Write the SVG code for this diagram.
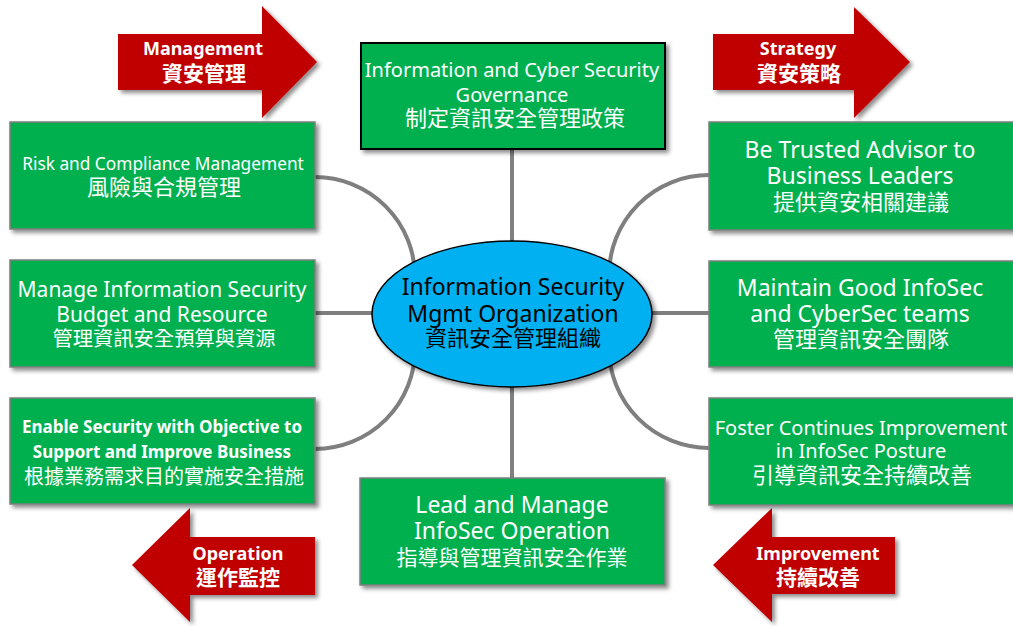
<svg xmlns="http://www.w3.org/2000/svg" width="1013" height="626" viewBox="0 0 1013 626">
<defs>
<filter id="sh" x="-10%" y="-10%" width="125%" height="130%">
<feDropShadow dx="3" dy="3" stdDeviation="2" flood-color="#000" flood-opacity="0.45"/>
</filter>
<style>
.box{fill:#00b050;stroke:#7f7f7f;stroke-width:1.5;filter:url(#sh)}
.boxk{fill:#00b050;stroke:#000;stroke-width:2;filter:url(#sh)}
.arr{fill:#c00000;filter:url(#sh)}
.con{fill:none;stroke:#7f7f7f;stroke-width:4}
text{font-family:"Noto Sans","Noto Sans CJK TC",sans-serif;text-anchor:middle;fill:#fff}
.cjk{font-family:"Noto Sans CJK TC","Noto Sans",sans-serif}
.b{font-weight:bold}
.dark{fill:#000}
</style>
</defs>
<rect width="1013" height="626" fill="#fff"/>

<g id="connectors">
<line class="con" x1="512" y1="149" x2="512" y2="245"/>
<line class="con" x1="512" y1="383" x2="512" y2="478"/>
<line class="con" x1="315" y1="313" x2="378" y2="313"/>
<line class="con" x1="647" y1="313" x2="709" y2="313"/>
<path class="con" d="M315,177 A100,100 0 0 1 415,277"/>
<path class="con" d="M315,449 A100,100 0 0 0 415,349"/>
<path class="con" d="M709,175 A100,100 0 0 0 609,275"/>
<path class="con" d="M709,448 A100,100 0 0 1 609,348"/>
</g>

<g id="arrow-management">
<polygon class="arr" points="118,34 262,34 262,6 317,62 262,118 262,90 118,90"/>
<text x="203" y="55" font-size="18" class="b">Management</text>
<text x="204" y="81" font-size="21" class="cjk b">資安管理</text>
</g>
<g id="arrow-strategy">
<polygon class="arr" points="713,34 854,34 854,7 910,62 854,118 854,90 713,90"/>
<text x="798" y="55" font-size="18" class="b">Strategy</text>
<text x="799" y="81" font-size="21" class="cjk b">資安策略</text>
</g>
<g id="arrow-operation">
<polygon class="arr" points="132,565 190,508 190,537 315,537 315,595 190,595 190,622"/>
<text x="238" y="560" font-size="18" class="b">Operation</text>
<text x="238" y="585" font-size="21" class="cjk b">運作監控</text>
</g>
<g id="arrow-improvement">
<polygon class="arr" points="713,565 772,508 772,537 895,537 895,594 772,594 772,622"/>
<text x="818" y="560" font-size="18" class="b">Improvement</text>
<text x="818" y="585" font-size="21" class="cjk b">持續改善</text>
</g>

<g id="node-governance">
<rect class="boxk" x="361" y="43" width="304" height="106"/>
<text x="512" y="77" font-size="20">Information and Cyber Security</text>
<text x="512" y="102" font-size="20">Governance</text>
<text x="515" y="126" font-size="22" class="cjk">制定資訊安全管理政策</text>
</g>

<g id="node-risk">
<rect class="box" x="10" y="122" width="305" height="107"/>
<text x="163" y="170" font-size="17.3">Risk and Compliance Management</text>
<text x="164" y="195" font-size="22" class="cjk">風險與合規管理</text>
</g>

<g id="node-budget">
<rect class="box" x="10" y="260" width="305" height="107"/>
<text x="162" y="297" font-size="21">Manage Information Security</text>
<text x="162" y="322" font-size="21">Budget and Resource</text>
<text x="164" y="346" font-size="20.3" class="cjk">管理資訊安全預算與資源</text>
</g>

<g id="node-enable">
<rect class="box" x="10" y="398" width="305" height="106"/>
<text x="162" y="433" font-size="17" class="b">Enable Security with Objective to</text>
<text x="162" y="458" font-size="17" class="b">Support and Improve Business</text>
<text x="164" y="484" font-size="20" class="cjk">根據業務需求目的實施安全措施</text>
</g>

<g id="node-advisor">
<rect class="box" x="709" y="122" width="310" height="108"/>
<text x="860" y="158" font-size="23">Be Trusted Advisor to</text>
<text x="860" y="184" font-size="23">Business Leaders</text>
<text x="861" y="210" font-size="22" class="cjk">提供資安相關建議</text>
</g>

<g id="node-teams">
<rect class="box" x="709" y="261" width="310" height="106"/>
<text x="860" y="296" font-size="23">Maintain Good InfoSec</text>
<text x="860" y="322" font-size="23">and CyberSec teams</text>
<text x="861" y="347" font-size="22" class="cjk">管理資訊安全團隊</text>
</g>

<g id="node-improve">
<rect class="box" x="709" y="398" width="310" height="107"/>
<text x="861" y="435" font-size="20">Foster Continues Improvement</text>
<text x="861" y="458" font-size="20">in InfoSec Posture</text>
<text x="862" y="483" font-size="22" class="cjk">引導資訊安全持續改善</text>
</g>

<g id="node-lead">
<rect class="box" x="360" y="478" width="305" height="107"/>
<text x="512" y="513" font-size="23">Lead and Manage</text>
<text x="512" y="539" font-size="23">InfoSec Operation</text>
<text x="512" y="565" font-size="21" class="cjk">指導與管理資訊安全作業</text>
</g>

<g id="node-center">
<ellipse cx="512" cy="314" rx="140" ry="73" fill="#00b0f0" stroke="#000" stroke-width="1.5" filter="url(#sh)"/>
<text x="513" y="295" font-size="23" class="dark">Information Security</text>
<text x="513" y="322" font-size="23" class="dark">Mgmt Organization</text>
<text x="513" y="346" font-size="22" class="cjk dark">資訊安全管理組織</text>
</g>
</svg>
